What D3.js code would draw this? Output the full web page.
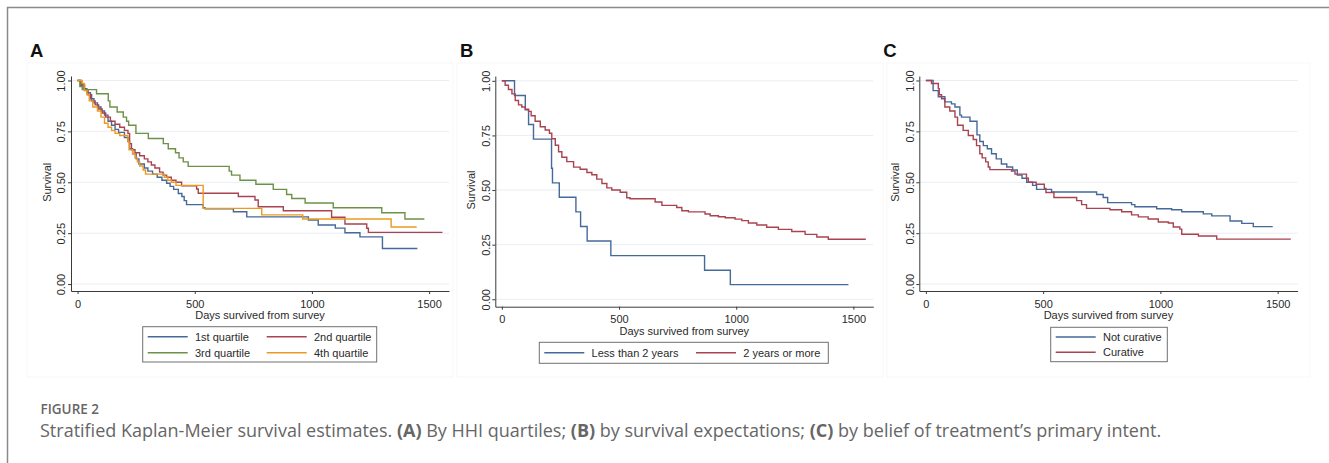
<!DOCTYPE html>
<html>
<head>
<meta charset="utf-8">
<script src="https://cdn.jsdelivr.net/npm/d3@7"></script>
<style>
  body { margin: 0; background: #fff; }
  svg { display: block; }
</style>
</head>
<body>
<div id="chart"></div>
<script>
// ticks
const xTicks = [0, 500, 1000, 1500];
const yTicks = [0, 0.25, 0.5, 0.75, 1];

// panel A: HHI quartiles  [day, survival]
const aNames = ["1st quartile", "2nd quartile", "3rd quartile", "4th quartile"];
const aQ1 = [[0,1],[12,0.975],[25,0.96],[40,0.94],[55,0.91],[70,0.89],[85,0.87],[100,0.85],[115,0.83],[130,0.80],[145,0.78],[160,0.76],[175,0.745],[200,0.72],[215,0.70],[222,0.665],[235,0.64],[250,0.615],[262,0.59],[285,0.57],[300,0.555],[320,0.54],[340,0.525],[360,0.51],[380,0.495],[395,0.48],[410,0.465],[430,0.445],[445,0.43],[455,0.41],[465,0.39],[536,0.375],[544,0.37],[665,0.355],[722,0.33],[985,0.315],[1027,0.29],[1100,0.275],[1141,0.252],[1205,0.232],[1301,0.175],[1450,0.175]];
const aQ2 = [[0,1],[15,0.98],[30,0.955],[45,0.93],[60,0.90],[75,0.88],[90,0.86],[105,0.84],[120,0.82],[140,0.80],[160,0.785],[180,0.77],[200,0.755],[215,0.74],[222,0.69],[230,0.66],[245,0.645],[265,0.63],[285,0.615],[300,0.60],[315,0.585],[330,0.57],[350,0.55],[365,0.535],[380,0.525],[400,0.51],[420,0.50],[444,0.483],[508,0.467],[515,0.446],[686,0.43],[757,0.413],[771,0.38],[878,0.36],[1084,0.328],[1141,0.295],[1234,0.274],[1241,0.254],[1557,0.254]];
const aQ3 = [[0,1],[10,0.97],[20,0.955],[81,0.935],[131,0.90],[138,0.87],[169,0.845],[195,0.82],[209,0.80],[218,0.78],[249,0.74],[302,0.715],[366,0.69],[387,0.665],[418,0.645],[433,0.62],[451,0.60],[472,0.578],[647,0.555],[657,0.535],[693,0.51],[761,0.49],[835,0.465],[892,0.44],[914,0.42],[971,0.398],[1091,0.375],[1298,0.35],[1397,0.32],[1480,0.32]];
const aQ4 = [[0,1],[20,0.985],[28,0.95],[40,0.93],[50,0.90],[65,0.87],[85,0.85],[100,0.82],[115,0.79],[130,0.77],[145,0.755],[160,0.74],[180,0.73],[215,0.70],[220,0.66],[235,0.64],[245,0.62],[255,0.60],[265,0.58],[280,0.56],[290,0.54],[370,0.525],[385,0.51],[400,0.50],[420,0.485],[536,0.372],[786,0.34],[961,0.32],[1338,0.28],[1447,0.28]];

// panel B: survival expectations
const bNames = ["Less than 2 years", "2 years or more"];
const bLess = [[0,1],[54,0.933],[100,0.867],[114,0.80],[135,0.733],[212,0.60],[216,0.533],[245,0.467],[316,0.40],[336,0.333],[364,0.267],[465,0.20],[865,0.133],[975,0.067],[1479,0.067]];
const bMore = [[0,1],[14,0.98],[28,0.96],[43,0.94],[57,0.91],[71,0.89],[85,0.88],[100,0.87],[114,0.86],[125,0.84],[142,0.815],[164,0.79],[185,0.775],[203,0.76],[213,0.735],[228,0.705],[242,0.675],[256,0.65],[277,0.63],[306,0.605],[334,0.595],[363,0.58],[384,0.57],[405,0.55],[427,0.53],[448,0.51],[469,0.50],[505,0.49],[533,0.465],[547,0.46],[654,0.445],[683,0.43],[746,0.42],[768,0.405],[796,0.40],[867,0.39],[889,0.382],[924,0.378],[953,0.373],[995,0.367],[1024,0.36],[1052,0.349],[1088,0.34],[1130,0.33],[1180,0.32],[1237,0.31],[1294,0.297],[1344,0.285],[1393,0.275],[1553,0.275]];

// panel C: belief of treatment intent
const cNames = ["Not curative", "Curative"];
const cNot = [[0,1],[31,0.95],[53,0.92],[81,0.895],[109,0.885],[124,0.87],[145,0.83],[152,0.82],[188,0.80],[218,0.733],[230,0.70],[245,0.68],[262,0.665],[280,0.64],[300,0.615],[322,0.59],[345,0.575],[370,0.56],[390,0.535],[410,0.52],[430,0.50],[455,0.485],[472,0.465],[536,0.452],[728,0.44],[756,0.425],[775,0.40],[877,0.39],[891,0.38],[984,0.37],[1048,0.365],[1091,0.355],[1183,0.345],[1219,0.335],[1297,0.31],[1347,0.298],[1396,0.282],[1479,0.282]];
const cCur = [[0,1],[24,0.985],[53,0.96],[57,0.93],[67,0.91],[81,0.87],[102,0.85],[124,0.82],[135,0.78],[159,0.755],[181,0.73],[202,0.71],[216,0.68],[230,0.64],[240,0.62],[255,0.60],[266,0.575],[273,0.562],[365,0.555],[380,0.54],[429,0.52],[437,0.50],[470,0.49],[505,0.47],[512,0.45],[546,0.425],[643,0.41],[664,0.39],[685,0.372],[785,0.365],[835,0.355],[877,0.34],[906,0.33],[948,0.32],[991,0.305],[1034,0.30],[1055,0.28],[1083,0.27],[1091,0.245],[1162,0.236],[1240,0.221],[1556,0.221]];

const blue = "#46699a", red = "#a9434f", green = "#6e9148", orange = "#ec9a1e";

const W = 1329, H = 463;
const svg = d3.select("#chart").append("svg")
    .attr("width", W)
    .attr("height", H);

// outer frame (runs off right/bottom edges)
svg.append("rect")
    .attr("x", 7.5).attr("y", 7.5)
    .attr("width", 1500).attr("height", 1000)
    .attr("fill", "none")
    .attr("stroke", "#8a8a8a")
    .attr("stroke-width", 1.5);

const panels = [
    {
        label: "A", labelX: 30, frame: [27, 63, 426, 314],
        left: 71, right: 449, top: 76, bottom: 291,
        series: [[aQ1, blue], [aQ2, red], [aQ3, green], [aQ4, orange]],
        names: aNames,
        legend: { x: 142.7, y: 326.7, w: 234, h: 35.3, cols: 2, colW: 119, rowH: 16, firstRow: 10 }
    },
    {
        label: "B", labelX: 460, frame: [457, 63, 426, 314],
        left: 495.3, right: 873.3, top: 76, bottom: 306.7,
        series: [[bLess, blue], [bMore, red]],
        names: bNames,
        legend: { x: 539.3, y: 342.3, w: 289, h: 21, cols: 2, colW: 151.7, rowH: 16, firstRow: 10.5 }
    },
    {
        label: "C", labelX: 883.3, frame: [887, 63, 423, 314],
        left: 919.3, right: 1297.6, top: 76, bottom: 291,
        series: [[cNot, blue], [cCur, red]],
        names: cNames,
        legend: { x: 1050.7, y: 327.3, w: 116.6, h: 34.4, cols: 1, colW: 0, rowH: 15.3, firstRow: 9.7 }
    }
];

const tickFont = "'Liberation Sans', Arial, sans-serif";

panels.forEach(p => {
    const g = svg.append("g");

    // faint graph region
    g.append("rect")
        .attr("x", p.frame[0]).attr("y", p.frame[1])
        .attr("width", p.frame[2]).attr("height", p.frame[3])
        .attr("fill", "none")
        .attr("stroke", "#f7f7f7");

    const x = d3.scaleLinear().domain([-28, 1585]).range([p.left, p.right]);
    const y = d3.scaleLinear().domain([-0.034, 1.022]).range([p.bottom, p.top]);

    // gridlines
    g.selectAll(".grid")
        .data(yTicks)
        .enter().append("line")
        .attr("x1", p.left).attr("x2", p.right)
        .attr("y1", d => y(d)).attr("y2", d => y(d))
        .attr("stroke", "#e8eef4")
        .attr("stroke-width", 1);

    // curves
    const line = d3.line()
        .x(d => x(d[0]))
        .y(d => y(d[1]))
        .curve(d3.curveStepAfter);

    p.series.forEach(([data, color]) => {
        g.append("path")
            .datum(data)
            .attr("d", line)
            .attr("fill", "none")
            .attr("stroke", color)
            .attr("stroke-width", 1.4);
    });

    // x axis
    const xa = g.append("g")
        .attr("transform", "translate(0," + p.bottom + ")")
        .call(d3.axisBottom(x).tickValues(xTicks).tickFormat(d3.format("d"))
            .tickSize(3).tickSizeOuter(0).tickPadding(6));
    // y axis
    const ya = g.append("g")
        .attr("transform", "translate(" + p.left + ",0)")
        .call(d3.axisLeft(y).tickValues(yTicks).tickSize(3).tickSizeOuter(0).tickFormat(d3.format(".2f")));
    ya.selectAll("text")
        .attr("x", 0)
        .attr("dy", null)
        .attr("transform", "translate(-5.7,0) rotate(-90)")
        .attr("text-anchor", "middle");

    [xa, ya].forEach(a => {
        a.attr("font-family", tickFont).attr("font-size", 11);
        a.selectAll("path, line").attr("stroke", "#3a3a3a");
        a.selectAll("text").attr("fill", "#2a2a2a");
    });

    // axis titles
    g.append("text")
        .attr("transform", "translate(" + (p.left - 20.3) + "," + ((y(0) + y(1)) / 2) + ") rotate(-90)")
        .attr("text-anchor", "middle")
        .attr("font-family", tickFont).attr("font-size", 11)
        .attr("fill", "#2a2a2a")
        .text("Survival");
    g.append("text")
        .attr("x", (p.left + p.right) / 2)
        .attr("y", p.bottom + 28)
        .attr("text-anchor", "middle")
        .attr("font-family", tickFont).attr("font-size", 11)
        .attr("fill", "#2a2a2a")
        .text("Days survived from survey");

    // panel letter
    g.append("text")
        .attr("x", p.labelX).attr("y", 56.7)
        .attr("font-family", tickFont).attr("font-size", 18.5)
        .attr("font-weight", "bold")
        .attr("fill", "#111")
        .text(p.label);

    // legend
    const L = p.legend;
    const lg = g.append("g").attr("transform", "translate(" + L.x + "," + L.y + ")");
    lg.append("rect")
        .attr("width", L.w).attr("height", L.h)
        .attr("fill", "#fff")
        .attr("stroke", "#707070")
        .attr("stroke-width", 1);
    const items = lg.selectAll(".legend-item")
        .data(p.names)
        .enter().append("g")
        .attr("class", "legend-item")
        .attr("transform", (d, i) => "translate(" + (5 + (i % L.cols) * L.colW) + "," + (L.firstRow + Math.floor(i / L.cols) * L.rowH) + ")");
    items.append("line")
        .attr("x1", 0).attr("x2", 40)
        .attr("stroke", (d, i) => p.series[i][1])
        .attr("stroke-width", 1.4);
    items.append("text")
        .attr("x", 47.3)
        .attr("y", 4)
        .attr("font-family", tickFont).attr("font-size", 11)
        .attr("fill", "#2a2a2a")
        .text(d => d);
});

// caption
const capFont = "'Open Sans', 'Noto Sans', sans-serif";
svg.append("text")
    .attr("x", 40.5).attr("y", 414)
    .attr("font-family", capFont).attr("font-size", 13.5)
    .attr("font-weight", 600)
    .attr("fill", "#666")
    .text("FIGURE 2");

const captionParts = [
    ["Stratified Kaplan-Meier survival estimates. ", 400],
    ["(A)", 700], [" By HHI quartiles; ", 400],
    ["(B)", 700], [" by survival expectations; ", 400],
    ["(C)", 700], [" by belief of treatment\u2019s primary intent.", 400]
];
const cap = svg.append("text")
    .attr("x", 40).attr("y", 437)
    .attr("font-family", capFont).attr("font-size", 16)
    .attr("fill", "#666");
cap.selectAll("tspan")
    .data(captionParts)
    .enter().append("tspan")
    .attr("font-weight", d => d[1])
    .text(d => d[0]);
// fit caption width to the reference line length
const capLen = cap.node().getComputedTextLength();
cap.attr("font-size", 16 * 1122 / capLen);
</script>
</body>
</html>
